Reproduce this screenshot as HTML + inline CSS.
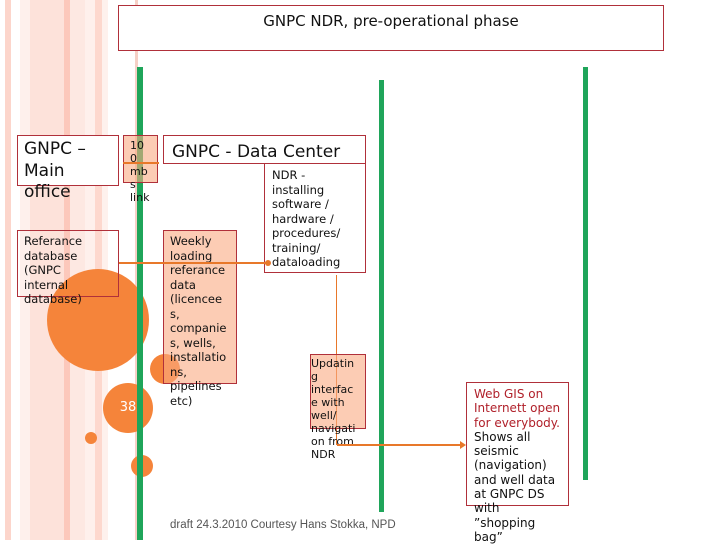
<!DOCTYPE html>
<html><head><meta charset="utf-8"><style>
body{margin:0;width:720px;height:540px;overflow:hidden;background:#fff;position:relative;font-family:"DejaVu Sans","Liberation Sans",sans-serif;}
.a{position:absolute;box-sizing:border-box}
.b{border:1px solid #b0303a}
.t{font-size:11.5px;line-height:14.5px;color:#111}
</style></head><body>
<!-- stripes -->
<div class="a" style="left:5px;top:0;width:6px;height:540px;background:#fcd5cb"></div>
<div class="a" style="left:20px;top:0;width:12px;height:540px;background:#fef0ec"></div>
<div class="a" style="left:30px;top:0;width:34px;height:540px;background:#fde2da"></div>
<div class="a" style="left:64px;top:0;width:6px;height:540px;background:#fcc8bb"></div>
<div class="a" style="left:70px;top:0;width:15px;height:540px;background:#fde8e2"></div>
<div class="a" style="left:85px;top:0;width:10px;height:540px;background:#fef0ec"></div>
<div class="a" style="left:95px;top:0;width:7px;height:540px;background:#fdd8ce"></div>
<div class="a" style="left:102px;top:0;width:6px;height:540px;background:#fef1ed"></div>
<div class="a" style="left:135px;top:0;width:3px;height:540px;background:#f6d0c6"></div>
<!-- title -->
<div class="a b" style="left:118px;top:5px;width:546px;height:46px;background:#fff;text-align:center;font-size:15px;padding-top:6px;color:#111">GNPC NDR, pre-operational phase</div>
<!-- circles -->
<div class="a" style="left:47px;top:269px;width:102px;height:102px;border-radius:50%;background:#f5843a"></div>
<div class="a" style="left:150px;top:354px;width:30px;height:30px;border-radius:50%;background:#f5843a"></div>
<div class="a" style="left:103px;top:383px;width:50px;height:50px;border-radius:50%;background:#f5843a;color:#fff;font-size:13px;text-align:center;line-height:50px">38</div>
<div class="a" style="left:85px;top:432px;width:12px;height:12px;border-radius:50%;background:#f5843a"></div>
<div class="a" style="left:131px;top:455px;width:22px;height:22px;border-radius:50%;background:#f5843a"></div>
<!-- green lines -->
<div class="a" style="left:137px;top:67px;width:6px;height:473px;background:#1fa55a"></div>
<div class="a" style="left:379px;top:80px;width:5px;height:432px;background:#1fa55a"></div>
<div class="a" style="left:583px;top:67px;width:5px;height:413px;background:#1fa55a"></div>
<!-- boxes -->
<div class="a b" style="left:17px;top:135px;width:102px;height:51px;background:#fff"></div>
<div class="a" style="left:24px;top:139px;font-size:17px;line-height:21.5px;color:#111">GNPC –<br>Main<br>office</div>
<div class="a b" style="left:123px;top:135px;width:35px;height:48px;background:rgba(250,170,130,.6)"></div>
<div class="a" style="left:130px;top:139px;font-size:11px;line-height:13px;color:#111">10<br>0<br>mb<br>s<br>link</div>
<div class="a b" style="left:163px;top:135px;width:203px;height:29px;background:#fff;font-size:17px;padding:6px 0 0 8px;color:#111">GNPC - Data Center</div>
<div class="a b t" style="left:264px;top:163px;width:102px;height:110px;background:#fff;padding:4px 0 0 7px">NDR -<br>installing<br>software /<br>hardware /<br>procedures/<br>training/<br>dataloading</div>
<div class="a b" style="left:17px;top:230px;width:102px;height:67px"></div>
<div class="a t" style="left:24px;top:234px">Referance<br>database<br>(GNPC<br>internal<br>database)</div>
<div class="a b" style="left:163px;top:230px;width:74px;height:154px;background:rgba(250,170,130,.6)"></div>
<div class="a t" style="left:170px;top:234px">Weekly<br>loading<br>referance<br>data<br>(licencee<br>s,<br>companie<br>s, wells,<br>installatio<br>ns,<br>pipelines<br>etc)</div>
<!-- connectors -->
<div class="a" style="left:119px;top:262px;width:150px;height:2px;background:#e8782a"></div>
<div class="a" style="left:265px;top:260px;width:6px;height:6px;border-radius:50%;background:#e8782a"></div>
<div class="a" style="left:336px;top:275px;width:1px;height:170px;background:#e8782a"></div>
<div class="a" style="left:123px;top:162px;width:36px;height:2px;background:#e8782a"></div>
<div class="a b" style="left:310px;top:354px;width:56px;height:75px;background:rgba(250,170,130,.6)"></div>
<div class="a" style="left:311px;top:357px;font-size:11px;line-height:13px;color:#111">Updatin<br>g<br>interfac<br>e with<br>well/<br>navigati<br>on from<br>NDR</div>
<div class="a" style="left:337px;top:444px;width:126px;height:2px;background:#e8782a"></div>
<div class="a" style="left:460px;top:441px;width:0;height:0;border-left:6px solid #e8782a;border-top:4px solid transparent;border-bottom:4px solid transparent"></div>
<div class="a b" style="left:466px;top:382px;width:103px;height:124px;background:#fff"></div>
<div class="a t" style="left:474px;top:387px;font-size:12px;line-height:14.3px"><span style="color:#b0202a">Web GIS on<br>Internett open<br>for everybody.</span><br>Shows all<br>seismic<br>(navigation)<br>and well data<br>at GNPC DS<br>with<br>”shopping<br>bag”</div>
<div class="a" style="left:170px;top:519px;font-size:11.5px;color:#555;font-family:'Liberation Sans',sans-serif">draft 24.3.2010 Courtesy Hans Stokka, NPD</div>
</body></html>
